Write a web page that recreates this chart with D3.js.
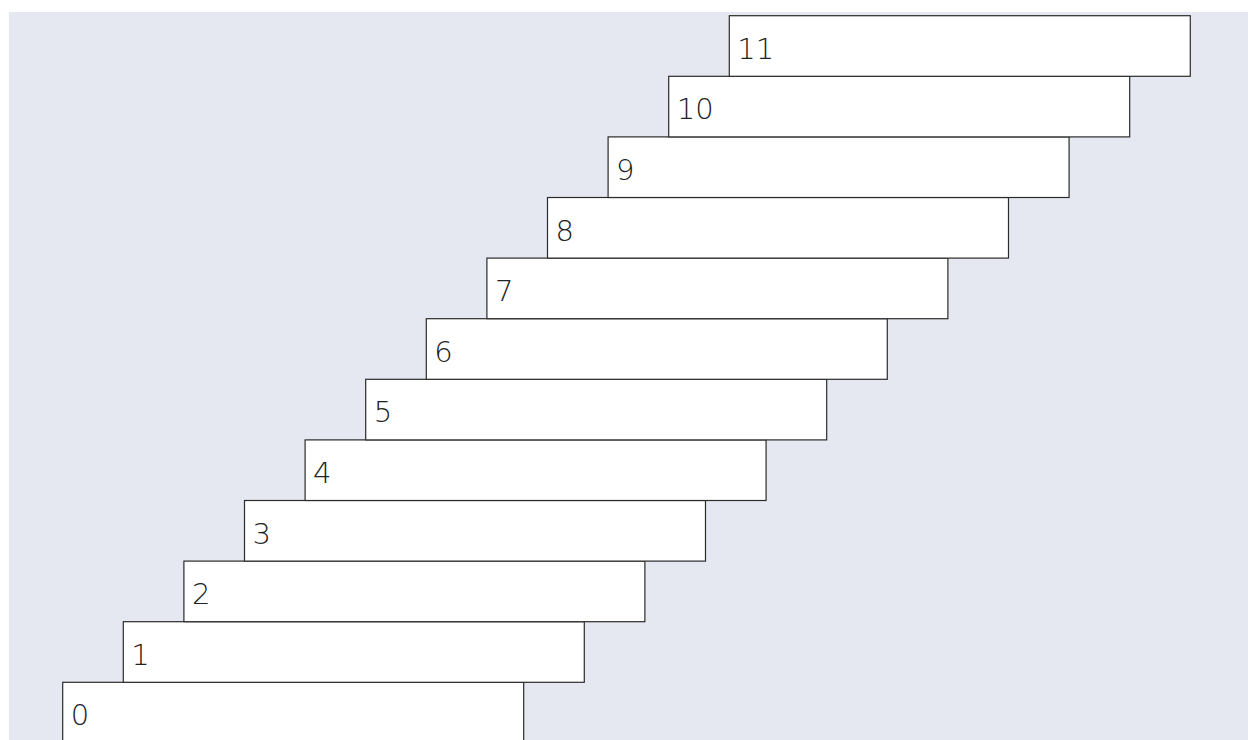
<!DOCTYPE html>
<html>
<head>
<meta charset="utf-8">
<script src="https://cdn.jsdelivr.net/npm/d3@7"></script>
<style>
  html, body { margin: 0; padding: 0; background: #ffffff; overflow: hidden; }
  svg { display: block; }
</style>
</head>
<body>
<svg id="chart" width="1248" height="740"></svg>
<script>
// Data
const categories = ["0","1","2","3","4","5","6","7","8","9","10","11"];
const stepValues = [0,1,2,3,4,5,6,7,8,9,10,11];
const boxSpan = 7.607; // width of each box in step units

const svg = d3.select("#chart");
const W = 1248, H = 740;

// plot background
svg.append("rect")
  .attr("x", 9).attr("y", 12)
  .attr("width", W - 9).attr("height", H - 12)
  .attr("fill", "#e5e8f0");

const x = d3.scaleLinear().domain([0, 11]).range([62.7, 729.3]);
const y = d3.scaleLinear().domain([0, 11]).range([682.3, 15.7]);
const unit = x(1) - x(0);
const hUnit = y(0) - y(1);

const g = svg.append("g");
const boxes = g.selectAll("g.box")
  .data(stepValues.map((v, i) => ({ v, label: categories[i] })))
  .join("g")
  .attr("class", "box");

boxes.append("rect")
  .attr("x", d => x(d.v))
  .attr("y", d => y(d.v))
  .attr("width", unit * boxSpan)
  .attr("height", hUnit)
  .attr("fill", "#ffffff")
  .attr("stroke", "#2b2b2b")
  .attr("stroke-width", 1.2);

boxes.append("text")
  .attr("x", d => x(d.v) + 8)
  .attr("y", d => y(d.v) + 43)
  .attr("font-family", "'DejaVu Sans', sans-serif")
  .attr("font-weight", 200)
  .attr("font-size", 29)
  .attr("fill", "#222222")
  .text(d => d.label);
</script>
</body>
</html>
